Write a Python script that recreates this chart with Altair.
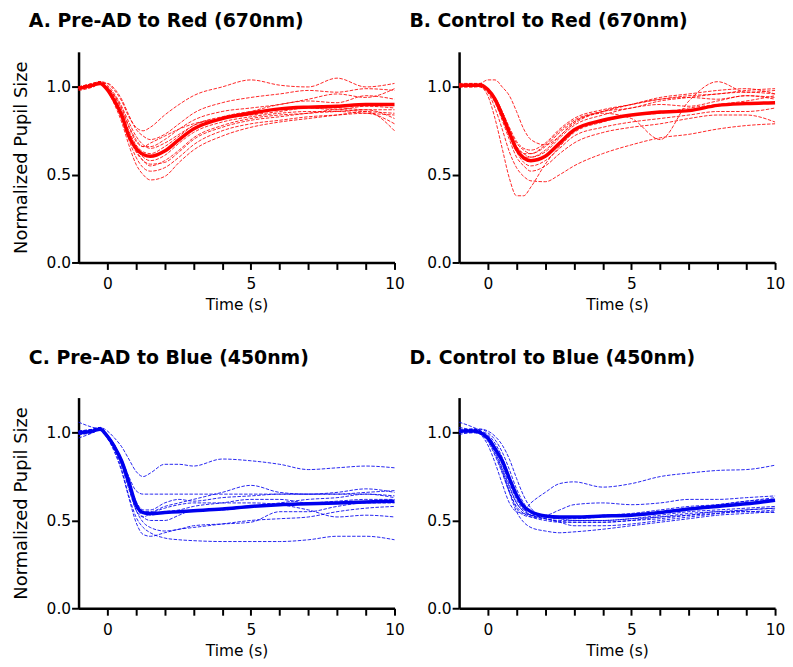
import altair as alt
import pandas as pd

# Time points (s)
TIME = [-1, -0.5, -0.25, 0, 0.25, 0.5, 0.75, 1, 1.25, 1.5, 2, 2.5, 3, 4, 5, 6, 7, 8, 9, 10]

# ---- Panel A: Pre-AD to Red ----
A_MEAN = [0.99, 1.01, 1.02, 0.985, 0.92, 0.84, 0.72, 0.65, 0.615, 0.605, 0.635, 0.70, 0.76, 0.82, 0.85, 0.875, 0.885, 0.89, 0.90, 0.90]
A_TRACES = [
    [1.00, 1.01, 1.03, 1.02, 0.98, 0.92, 0.83, 0.77, 0.75, 0.77, 0.84, 0.90, 0.95, 1.00, 1.04, 1.01, 1.00, 1.05, 1.00, 1.02],
    [0.99, 1.01, 1.02, 1.02, 0.99, 0.93, 0.84, 0.76, 0.72, 0.70, 0.73, 0.79, 0.85, 0.91, 0.94, 0.96, 0.98, 0.97, 0.99, 0.98],
    [1.00, 1.02, 1.03, 1.00, 0.95, 0.88, 0.78, 0.70, 0.66, 0.66, 0.70, 0.76, 0.81, 0.86, 0.88, 0.90, 0.93, 0.96, 0.94, 0.99],
    [0.99, 1.01, 1.02, 0.99, 0.93, 0.85, 0.75, 0.67, 0.63, 0.62, 0.66, 0.72, 0.78, 0.83, 0.86, 0.87, 0.88, 0.87, 0.89, 0.88],
    [1.00, 1.02, 1.03, 1.00, 0.94, 0.85, 0.74, 0.65, 0.60, 0.58, 0.61, 0.68, 0.74, 0.80, 0.83, 0.85, 0.86, 0.86, 0.85, 0.84],
    [0.98, 1.00, 1.02, 0.99, 0.92, 0.83, 0.72, 0.63, 0.58, 0.56, 0.57, 0.63, 0.70, 0.77, 0.81, 0.83, 0.85, 0.86, 0.87, 0.82],
    [0.99, 1.01, 1.02, 0.98, 0.91, 0.82, 0.70, 0.60, 0.54, 0.52, 0.54, 0.60, 0.67, 0.75, 0.79, 0.81, 0.83, 0.84, 0.85, 0.79],
    [1.00, 1.01, 1.02, 0.98, 0.90, 0.80, 0.67, 0.56, 0.50, 0.47, 0.49, 0.57, 0.64, 0.72, 0.77, 0.80, 0.82, 0.84, 0.86, 0.75],
    [0.99, 1.01, 1.02, 1.00, 0.95, 0.87, 0.77, 0.69, 0.66, 0.68, 0.72, 0.76, 0.79, 0.82, 0.84, 0.86, 0.88, 0.88, 0.87, 0.87],
    [1.00, 1.02, 1.03, 1.01, 0.96, 0.89, 0.80, 0.72, 0.67, 0.65, 0.68, 0.73, 0.78, 0.82, 0.86, 0.90, 0.92, 0.91, 0.95, 0.93],
    [0.99, 1.00, 1.02, 0.99, 0.93, 0.84, 0.73, 0.64, 0.58, 0.55, 0.58, 0.64, 0.71, 0.78, 0.82, 0.84, 0.85, 0.87, 0.86, 0.85],
]

# ---- Panel B: Control to Red ----
B_MEAN = [1.01, 1.01, 1.01, 0.985, 0.93, 0.84, 0.74, 0.645, 0.595, 0.58, 0.605, 0.68, 0.755, 0.81, 0.84, 0.857, 0.865, 0.895, 0.905, 0.91]
B_TRACES = [
    [1.00, 1.01, 1.02, 1.04, 1.04, 1.00, 0.95, 0.86, 0.76, 0.70, 0.67, 0.72, 0.80, 0.86, 0.90, 0.93, 0.95, 0.96, 0.98, 0.99],
    [1.01, 1.01, 1.00, 0.95, 0.82, 0.65, 0.48, 0.38, 0.38, 0.43, 0.56, 0.66, 0.74, 0.80, 0.84, 0.85, 0.88, 0.90, 0.92, 0.95],
    [1.00, 1.00, 1.00, 0.97, 0.88, 0.76, 0.63, 0.54, 0.49, 0.465, 0.46, 0.50, 0.55, 0.62, 0.67, 0.71, 0.73, 0.76, 0.78, 0.79],
    [1.00, 1.01, 1.01, 0.98, 0.92, 0.83, 0.73, 0.64, 0.60, 0.60, 0.64, 0.72, 0.79, 0.85, 0.82, 0.70, 0.92, 1.03, 0.97, 0.98],
    [1.02, 1.02, 1.01, 0.99, 0.93, 0.84, 0.74, 0.66, 0.62, 0.62, 0.67, 0.75, 0.81, 0.86, 0.88, 0.92, 0.94, 0.96, 0.97, 0.96],
    [1.01, 1.01, 1.02, 0.99, 0.94, 0.86, 0.77, 0.69, 0.65, 0.64, 0.68, 0.76, 0.82, 0.87, 0.90, 0.93, 0.94, 0.93, 0.95, 0.94],
    [1.00, 1.01, 1.01, 0.98, 0.92, 0.83, 0.72, 0.63, 0.57, 0.55, 0.58, 0.65, 0.72, 0.77, 0.80, 0.82, 0.84, 0.86, 0.86, 0.88],
    [1.01, 1.01, 1.00, 0.97, 0.91, 0.81, 0.70, 0.60, 0.55, 0.52, 0.55, 0.62, 0.68, 0.74, 0.77, 0.79, 0.82, 0.84, 0.84, 0.80],
    [1.00, 1.00, 1.01, 0.98, 0.93, 0.84, 0.74, 0.66, 0.62, 0.60, 0.63, 0.71, 0.78, 0.84, 0.88, 0.90, 0.89, 0.92, 0.95, 0.93],
    [1.01, 1.02, 1.02, 0.99, 0.94, 0.86, 0.76, 0.68, 0.64, 0.62, 0.66, 0.74, 0.80, 0.86, 0.90, 0.94, 0.96, 0.98, 0.99, 0.96],
]

# ---- Panel C: Pre-AD to Blue ----
C_MEAN = [1.00, 1.01, 1.02, 0.98, 0.92, 0.84, 0.72, 0.59, 0.545, 0.54, 0.545, 0.55, 0.555, 0.565, 0.58, 0.59, 0.595, 0.60, 0.605, 0.61]
C_TRACES = [
    [1.00, 1.02, 1.03, 1.01, 0.97, 0.92, 0.85, 0.78, 0.75, 0.77, 0.82, 0.82, 0.81, 0.85, 0.84, 0.82, 0.79, 0.80, 0.81, 0.80],
    [0.99, 1.01, 1.02, 0.99, 0.93, 0.85, 0.75, 0.67, 0.65, 0.65, 0.65, 0.65, 0.65, 0.65, 0.65, 0.65, 0.65, 0.65, 0.65, 0.64],
    [1.00, 1.01, 1.02, 0.98, 0.92, 0.83, 0.71, 0.60, 0.55, 0.55, 0.58, 0.60, 0.62, 0.66, 0.70, 0.66, 0.65, 0.66, 0.68, 0.66],
    [1.01, 1.02, 1.03, 0.99, 0.93, 0.84, 0.72, 0.61, 0.56, 0.56, 0.60, 0.62, 0.61, 0.63, 0.64, 0.65, 0.65, 0.65, 0.66, 0.67],
    [1.00, 1.01, 1.02, 0.98, 0.91, 0.81, 0.68, 0.56, 0.52, 0.54, 0.57, 0.59, 0.60, 0.60, 0.60, 0.59, 0.56, 0.52, 0.53, 0.52],
    [0.99, 1.00, 1.02, 0.97, 0.89, 0.78, 0.63, 0.49, 0.42, 0.41, 0.43, 0.45, 0.46, 0.48, 0.50, 0.51, 0.52, 0.55, 0.57, 0.58],
    [1.00, 1.01, 1.02, 0.97, 0.90, 0.79, 0.64, 0.52, 0.46, 0.43, 0.40, 0.39, 0.385, 0.38, 0.38, 0.38, 0.39, 0.41, 0.41, 0.39],
    [1.01, 1.02, 1.03, 0.99, 0.92, 0.82, 0.69, 0.56, 0.49, 0.46, 0.44, 0.45, 0.47, 0.48, 0.49, 0.55, 0.55, 0.58, 0.60, 0.60],
    [1.06, 1.03, 1.02, 0.98, 0.91, 0.82, 0.70, 0.58, 0.52, 0.50, 0.50, 0.53, 0.56, 0.56, 0.58, 0.60, 0.62, 0.63, 0.65, 0.63],
    [0.97, 1.00, 1.02, 0.98, 0.92, 0.83, 0.71, 0.59, 0.54, 0.53, 0.55, 0.56, 0.58, 0.60, 0.62, 0.62, 0.60, 0.61, 0.62, 0.62],
]

# ---- Panel D: Control to Blue ----
D_MEAN = [1.01, 1.01, 1.00, 0.97, 0.91, 0.84, 0.74, 0.645, 0.58, 0.55, 0.526, 0.52, 0.52, 0.525, 0.53, 0.545, 0.565, 0.58, 0.595, 0.615]
D_TRACES = [
    [1.02, 1.02, 1.01, 0.98, 0.92, 0.82, 0.70, 0.60, 0.56, 0.60, 0.66, 0.71, 0.72, 0.69, 0.71, 0.75, 0.77, 0.785, 0.79, 0.815],
    [1.01, 1.02, 1.02, 1.00, 0.96, 0.89, 0.79, 0.68, 0.60, 0.55, 0.53, 0.56, 0.59, 0.60, 0.59, 0.60, 0.62, 0.62, 0.63, 0.64],
    [1.00, 1.01, 1.00, 0.96, 0.88, 0.78, 0.66, 0.55, 0.49, 0.46, 0.44, 0.43, 0.435, 0.45, 0.47, 0.49, 0.51, 0.53, 0.54, 0.55],
    [1.01, 1.02, 1.02, 1.01, 0.98, 0.93, 0.85, 0.74, 0.64, 0.57, 0.52, 0.51, 0.51, 0.52, 0.53, 0.55, 0.57, 0.59, 0.61, 0.63],
    [1.03, 1.01, 0.99, 0.93, 0.83, 0.71, 0.60, 0.55, 0.54, 0.53, 0.52, 0.51, 0.50, 0.50, 0.51, 0.52, 0.54, 0.55, 0.56, 0.57],
    [1.00, 1.00, 0.99, 0.95, 0.87, 0.77, 0.66, 0.58, 0.54, 0.52, 0.50, 0.49, 0.49, 0.49, 0.50, 0.52, 0.53, 0.55, 0.55, 0.56],
    [0.99, 1.00, 1.00, 0.96, 0.90, 0.80, 0.69, 0.60, 0.55, 0.53, 0.51, 0.50, 0.50, 0.50, 0.51, 0.53, 0.55, 0.56, 0.57, 0.58],
    [1.06, 1.03, 1.01, 0.96, 0.89, 0.79, 0.67, 0.57, 0.53, 0.52, 0.51, 0.495, 0.49, 0.49, 0.50, 0.51, 0.53, 0.54, 0.55, 0.545],
    [1.01, 1.02, 1.01, 0.99, 0.94, 0.86, 0.75, 0.64, 0.57, 0.53, 0.52, 0.52, 0.52, 0.53, 0.54, 0.56, 0.58, 0.59, 0.61, 0.62],
    [1.00, 1.01, 1.00, 0.97, 0.91, 0.83, 0.72, 0.62, 0.56, 0.53, 0.51, 0.49, 0.47, 0.47, 0.48, 0.50, 0.52, 0.54, 0.56, 0.57],
]

TITLES = ["A. Pre-AD to Red (670nm)", "B. Control to Red (670nm)",
          "C. Pre-AD to Blue (450nm)", "D. Control to Blue (450nm)"]
RED = "#ff0000"
BLUE = "#0000ee"
FONT = "DejaVu Sans"

W, H = 318, 212


def panel(traces, mean, color, title, left, toff):
    rows = []
    for i, tr in enumerate(traces):
        for t, v in zip(TIME, tr):
            rows.append({"t": t, "v": v, "id": f"s{i}"})
    df_tr = pd.DataFrame(rows)
    df_mean = pd.DataFrame({"t": TIME, "v": mean})

    x = alt.X("t:Q", scale=alt.Scale(domain=[-1, 10], nice=False, zero=False),
              axis=alt.Axis(values=list(range(0, 11)),
                            labelExpr="datum.value % 5 === 0 ? datum.label : ''",
                            title="Time (s)", labelPadding=7, titlePadding=6,
                            titleFontSize=15.5, labelFlush=False))
    if left:
        yaxis = alt.Axis(values=[0, 0.5, 1.0], format=".1f", title="Normalized Pupil Size",
                         titleFontSize=18, titlePadding=16, labelPadding=1, labelFlush=False)
    else:
        yaxis = alt.Axis(values=[0, 0.5, 1.0], format=".1f", title="", labelPadding=1,
                         labelFlush=False)
    y = alt.Y("v:Q", scale=alt.Scale(domain=[0, 1.2], nice=False), axis=yaxis)

    thin = alt.Chart(df_tr).mark_line(
        color=color, strokeWidth=1, strokeDash=[3.5, 1.5], interpolate="monotone", opacity=0.85
    ).encode(x=x, y=y, detail="id:N")
    thick = alt.Chart(df_mean).mark_line(
        color=color, strokeWidth=3.5, interpolate="monotone"
    ).encode(x=x, y=y)
    return alt.layer(thin, thick).properties(
        width=W, height=H,
        title=alt.TitleParams(title, anchor="start", frame="group", dx=-50, offset=toff,
                              fontSize=19, fontWeight="bold", font=FONT, color="black"),
    )


pA = panel(A_TRACES, A_MEAN, RED, TITLES[0], True, 21)
pB = panel(B_TRACES, B_MEAN, RED, TITLES[1], False, 21)
pC = panel(C_TRACES, C_MEAN, BLUE, TITLES[2], True, 30)
pD = panel(D_TRACES, D_MEAN, BLUE, TITLES[3], False, 30)

row1 = alt.hconcat(pA, pB, spacing=5)
row2 = alt.hconcat(pC, pD, spacing=5)
chart = alt.vconcat(row1, row2, spacing=36).properties(
    padding={"left": 4, "top": 2, "right": 0, "bottom": 0}
).configure_view(strokeWidth=0).configure_axis(
    grid=False, domainColor="black", domainWidth=2.5, tickColor="black", tickWidth=2,
    tickSize=7, labelFont=FONT, labelFontSize=15.5, labelColor="black",
    titleFont=FONT, titleFontWeight="normal", titleColor="black",
)

chart.save("out.html", embed_options={"renderer": "svg", "actions": False})
